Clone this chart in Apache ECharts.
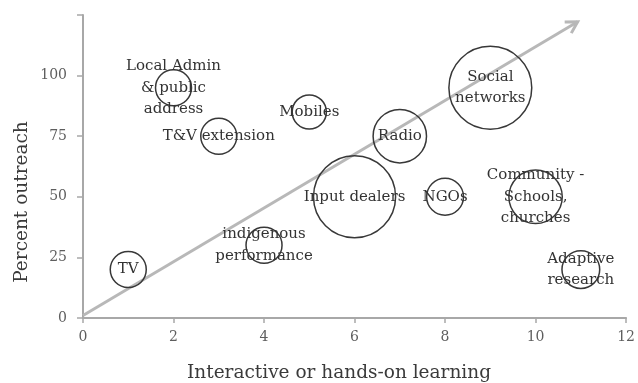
<!DOCTYPE html>
<html>
<head>
<meta charset="utf-8">
<script src="https://cdn.jsdelivr.net/npm/echarts@6/dist/echarts.min.js"></script>
<style>
  html, body { margin: 0; padding: 0; background: #ffffff; }
  #chart { width: 638px; height: 383px; }
</style>
</head>
<body>
<div id="chart"></div>
<script>
// Extension channels: hands-on learning score (x), outreach % (y), relative weight (bubble area)
const channels = ['TV', 'Local Admin\n& public\naddress', 'T&V extension', 'indigenous\nperformance',
  'Mobiles', 'Input dealers', 'Radio', 'NGOs', 'Social\nnetworks', 'Community -\nSchools,\nchurches',
  'Adaptive\nresearch'];
const handsOn  = [1, 2, 3, 4, 5, 6, 7, 8, 9, 10, 11];
const outreach = [20, 95, 75, 30, 85, 50, 75, 50, 95, 50, 20];
const weight   = [1, 1, 1, 1, 0.9, 5.2, 2.2, 1.05, 5.3, 2.2, 1.1];

// Trend arrow endpoints, in axis units
const trendStart = [0, 1];
const trendEnd = [10.93, 122.2];

const xTicks = [0, 2, 4, 6, 8, 10, 12];
const yTicks = [0, 25, 50, 75, 100, 125];

const FONT = '"DejaVu Serif", serif';

const chart = echarts.init(document.getElementById('chart'));

const bubbles = channels.map((name, i) => ({
  name: name,
  value: [handsOn[i], outreach[i], weight[i]]
}));

chart.setOption({
  animation: false,
  grid: { left: 83, right: 10, top: 15, bottom: 65 },
  xAxis: {
    type: 'value',
    min: xTicks[0],
    max: xTicks[xTicks.length - 1],
    interval: 2,
    splitLine: { show: false },
    axisLine: { onZero: false, lineStyle: { color: '#a8a8a8', width: 2 } },
    axisTick: { show: true, length: 5, lineStyle: { color: '#a8a8a8', width: 1.5 } },
    axisLabel: { margin: 12, color: '#5e5e5e', fontFamily: FONT, fontSize: 14 }
  },
  yAxis: {
    type: 'value',
    min: yTicks[0],
    max: yTicks[yTicks.length - 1],
    interval: 25,
    splitLine: { show: false },
    axisLine: { show: true, lineStyle: { color: '#a8a8a8', width: 2 } },
    axisTick: { show: true, length: 6, lineStyle: { color: '#a8a8a8', width: 1.5 } },
    axisLabel: {
      margin: 16, color: '#5e5e5e', fontFamily: FONT, fontSize: 14,
      formatter: v => (v === yTicks[yTicks.length - 1] ? '' : String(v))
    }
  },
  graphic: [
    {
      type: 'text', x: 339, y: 373,
      style: { text: 'Interactive or hands-on learning', fill: '#3a3a3a', font: '18.5px ' + FONT,
        textAlign: 'center', textVerticalAlign: 'middle' }
    },
    {
      type: 'text', x: 22, y: 202, rotation: Math.PI / 2,
      style: { text: 'Percent outreach', fill: '#3a3a3a', font: '18.5px ' + FONT,
        textAlign: 'center', textVerticalAlign: 'middle' }
    }
  ],
  series: [
    {
      type: 'custom',
      silent: true,
      z: 1,
      data: [[trendStart[0], trendStart[1], trendEnd[0], trendEnd[1]]],
      renderItem: function (params, api) {
        const p0 = api.coord([api.value(0), api.value(1)]);
        const p1 = api.coord([api.value(2), api.value(3)]);
        const ang = Math.atan2(p1[1] - p0[1], p1[0] - p0[0]);
        const len = 13, spread = Math.PI / 6;
        const a1 = [p1[0] - len * Math.cos(ang - spread), p1[1] - len * Math.sin(ang - spread)];
        const a2 = [p1[0] - len * Math.cos(ang + spread), p1[1] - len * Math.sin(ang + spread)];
        const style = { stroke: '#b8b8b8', lineWidth: 3, fill: null, lineCap: 'butt', lineJoin: 'miter' };
        return {
          type: 'group',
          children: [
            { type: 'line', shape: { x1: p0[0], y1: p0[1], x2: p1[0], y2: p1[1] }, style: style },
            { type: 'polyline', shape: { points: [a1, p1, a2] }, style: style }
          ]
        };
      }
    },
    {
      type: 'scatter',
      z: 2,
      data: bubbles,
      symbol: 'circle',
      symbolSize: d => 36 * Math.sqrt(d[2]),
      itemStyle: { color: 'rgba(255,255,255,0)', borderColor: '#383838', borderWidth: 1.5, opacity: 1 },
      emphasis: { disabled: true },
      label: {
        show: true,
        position: 'inside',
        formatter: p => p.name,
        color: '#333333',
        fontFamily: FONT,
        fontSize: 15,
        lineHeight: 21.5,
        align: 'center'
      },
      labelLayout: { hideOverlap: false }
    }
  ]
});
</script>
</body>
</html>
